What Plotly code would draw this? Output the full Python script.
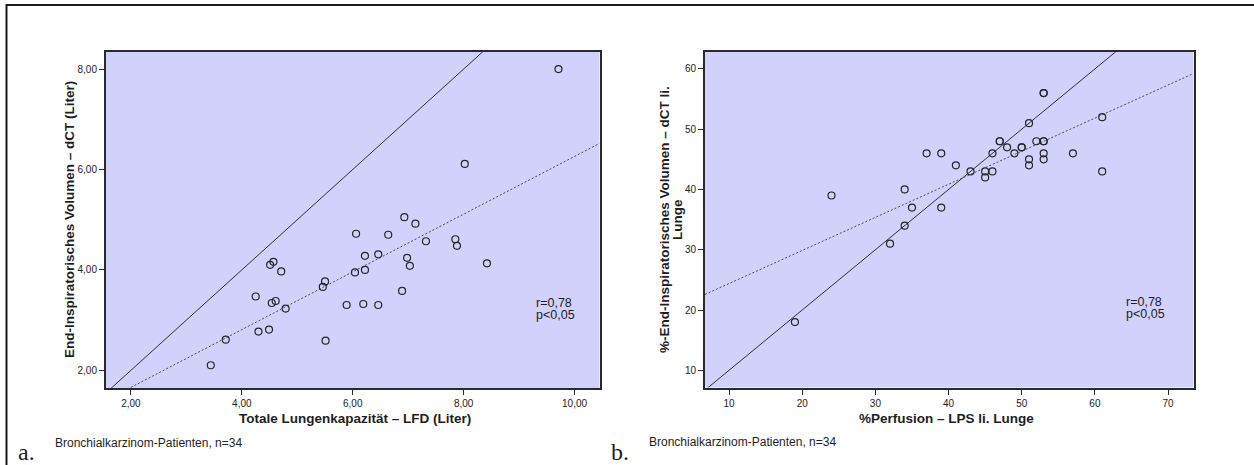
import plotly.graph_objects as go

# ---- data -------------------------------------------------------------
# Panel a: total lung capacity (body plethysmography) vs. end-inspiratory CT volume, litres
tlc_lfd = [9.71, 8.02, 6.93, 7.13, 6.06, 6.64, 7.32, 7.85, 7.88, 6.46, 6.22, 6.98,
           7.03, 8.42, 4.57, 4.51, 4.71, 6.04, 6.22, 5.50, 5.46, 4.25, 6.89, 4.54,
           4.61, 4.79, 5.89, 6.19, 6.46, 4.30, 4.49, 3.71, 5.51, 3.44]
vol_dct = [8.00, 6.11, 5.05, 4.92, 4.72, 4.70, 4.57, 4.61, 4.48, 4.31, 4.28, 4.24,
           4.08, 4.13, 4.16, 4.10, 3.97, 3.95, 4.00, 3.77, 3.66, 3.47, 3.58, 3.34,
           3.38, 3.23, 3.30, 3.32, 3.30, 2.77, 2.81, 2.61, 2.59, 2.10]

# Panel b: % perfusion of the left lung (scintigraphy) vs. % end-inspiratory CT volume
perf_lps = [53, 53, 51, 61, 47, 47, 52, 53, 53, 48, 50, 50, 37, 39, 46, 49, 53,
            57, 51, 53, 41, 51, 43, 45, 46, 61, 45, 34, 24, 35, 39, 34, 32, 19]
vol_pct = [56, 56, 51, 52, 48, 48, 48, 48, 48, 47, 47, 47, 46, 46, 46, 46, 46,
           46, 45, 45, 44, 44, 43, 43, 43, 43, 42, 40, 39, 37, 37, 34, 31, 18]

# linear fit lines (intercept, slope)
fit_a = (0.51, 0.575)
fit_b = (18.9, 0.549)

# axis ranges and ticks
range_ax = [1.55, 10.45]
range_ay = [1.647, 8.34]
range_bx = [6.71, 73.48]
range_by = [7.14, 62.81]
ticks_ax = [2, 4, 6, 8, 10]
ticks_ay = [2, 4, 6, 8]
ticks_b = [10, 20, 30, 40, 50, 60, 70]
ticklabels_ax = ["2,00", "4,00", "6,00", "8,00", "10,00"]
ticklabels_ay = ["2,00", "4,00", "6,00", "8,00"]
ticklabels_b = ["10", "20", "30", "40", "50", "60", "70"]

stat_text = ["r=0,78", "p&lt;0,05"]
caption = "Bronchialkarzinom-Patienten, n=34"

# ---- styling ----------------------------------------------------------
W, H = 1254, 465
FONT = "Liberation Sans, Arial, sans-serif"
SERIF = "Liberation Serif, Times New Roman, serif"
BG = "#D1D1FB"
INK = "#2a2a2a"


def px(x):
    return x / W


def py(y):
    return 1 - y / H


fig = go.Figure()


def add_panel(xs, ys, fit, xr, yr, xa, ya):
    # identity line y = x across the visible range
    lo = min(xr[0], yr[0])
    hi = max(xr[1], yr[1])
    fig.add_trace(go.Scatter(x=[lo, hi], y=[lo, hi], mode="lines",
                             line=dict(color="#303030", width=1),
                             xaxis=xa, yaxis=ya, hoverinfo="skip", showlegend=False))
    # regression line
    fx = [xr[0], xr[1]]
    fy = [fit[0] + fit[1] * v for v in fx]
    fig.add_trace(go.Scatter(x=fx, y=fy, mode="lines",
                             line=dict(color="#4a4a4a", width=1, dash="2px,2px"),
                             xaxis=xa, yaxis=ya, hoverinfo="skip", showlegend=False))
    # patients
    fig.add_trace(go.Scatter(x=xs, y=ys, mode="markers",
                             marker=dict(symbol="circle-open", size=7,
                                         color="#262626", line=dict(width=1.2)),
                             xaxis=xa, yaxis=ya, showlegend=False))


add_panel(tlc_lfd, vol_dct, fit_a, range_ax, range_ay, "x", "y")
add_panel(perf_lps, vol_pct, fit_b, range_bx, range_by, "x2", "y2")

axis_common = dict(showline=True, linecolor=INK, linewidth=2, mirror=True,
                   ticks="outside", ticklen=5, tickwidth=1, tickcolor=INK,
                   showgrid=False, zeroline=False,
                   tickfont=dict(family=FONT, size=10, color="#222"))

fig.update_layout(
    width=W, height=H,
    margin=dict(l=0, r=0, t=0, b=0),
    paper_bgcolor="white",
    plot_bgcolor=BG,
    font=dict(family=FONT, color="#222"),
    xaxis=dict(domain=[px(106), px(599.5)], range=range_ax, tickvals=ticks_ax,
               ticktext=ticklabels_ax, anchor="y", **axis_common),
    yaxis=dict(domain=[py(388), py(52)], range=range_ay, tickvals=ticks_ay,
               ticktext=ticklabels_ay, anchor="x", **axis_common),
    xaxis2=dict(domain=[px(705), px(1193.5)], range=range_bx, tickvals=ticks_b,
                ticktext=ticklabels_b, anchor="y2", **axis_common),
    yaxis2=dict(domain=[py(387.5), py(52)], range=range_by, tickvals=ticks_b,
                ticktext=ticklabels_b, anchor="x2", **axis_common),
)

ann = []


def text(x, y, s, size, bold=False, angle=0, xanchor="center", family=FONT):
    ann.append(dict(x=px(x), y=py(y), xref="paper", yref="paper",
                    text="<b>" + s + "</b>" if bold else s,
                    showarrow=False, textangle=angle, xanchor=xanchor,
                    yanchor="middle", font=dict(family=family, size=size,
                                                color="#1e1e1e")))


# axis titles
text(355, 418, "Totale Lungenkapazität – LFD (Liter)", 13.5, bold=True)
text(69, 220, "End-Inspiratorisches Volumen – dCT (Liter)", 13.5, bold=True, angle=-90)
text(946, 418, "%Perfusion – LPS li. Lunge", 13.5, bold=True)
text(664, 219, "%-End-Inspiratorisches Volumen – dCT li.", 13.5, bold=True, angle=-90)
text(677, 220, "Lunge", 13.5, bold=True, angle=-90)

# correlation notes
text(534, 303, stat_text[0], 12.5, xanchor="left")
text(534, 315, stat_text[1], 12.5, xanchor="left")
text(1124, 302, stat_text[0], 12.5, xanchor="left")
text(1124, 314, stat_text[1], 12.5, xanchor="left")

# captions and panel letters
text(53, 443, caption, 12, xanchor="left")
text(647, 442, caption, 12, xanchor="left")
text(16, 452, "a.", 24, xanchor="left", family=SERIF)
text(609, 452, "b.", 24, xanchor="left", family=SERIF)

fig.update_layout(annotations=ann)

# outer frame (open towards right and bottom edges of the page)
fig.add_shape(type="rect", xref="paper", yref="paper",
              x0=px(6.5), x1=px(W + 20), y0=py(H + 20), y1=py(5),
              line=dict(color="#1a1a1a", width=2), fillcolor="rgba(0,0,0,0)",
              layer="above")

fig.write_html("out.html")
